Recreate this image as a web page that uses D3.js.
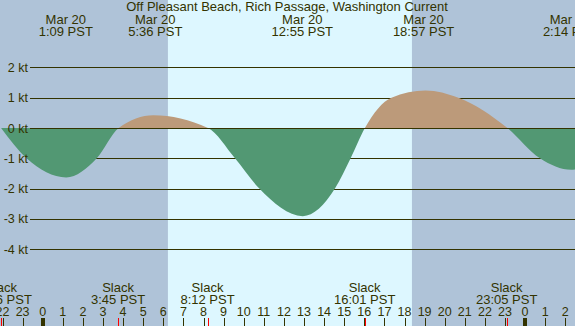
<!DOCTYPE html>
<html><head><meta charset="utf-8">
<script src="https://cdn.jsdelivr.net/npm/d3@7"></script>
<style>html,body{margin:0;padding:0;background:#afc3d8;}svg{display:block;}</style>
</head><body>
<script>
// Hours relative to Mar 20 00:00 PST; current speed in knots
const curveHours  = [-2.07, -0.8, 1.17, 2.69, 3.78, 5.5, 8.22, 9.567, 10.776, 12.94, 14.54, 15.32, 16.03, 17.35, 19.05, 20.68, 23.12, 24.74, 26.3, 26.5];
const curveSpeeds = [0,     -1.0, -1.63, -1.0, 0,   0.42, 0,   -1.0,   -2.0,  -2.91, -2.0, -1.0,  0,     1.0,   1.24,  1.0,   0,     -1.0,  -1.38, -1.37];
const maxLabels = [
  {h: 1.15, date: "Mar 20", time: "1:09 PST"},
  {h: 5.6, date: "Mar 20", time: "5:36 PST"},
  {h: 12.917, date: "Mar 20", time: "12:55 PST"},
  {h: 18.95, date: "Mar 20", time: "18:57 PST"},
  {h: 26.233, date: "Mar 21", time: "2:14 PST"}
];
const slackHours = [-2.067, 3.75, 8.2, 16.017, 23.083];
const slackTimes = ["21:56 PST", "3:45 PST", "8:12 PST", "16:01 PST", "23:05 PST"];
const yTicks = [2, 1, 0, -1, -2, -3, -4];
const hourTicks = d3.range(-2, 27);
const sunrise = 6.23, sunset = 18.37;
const title = "Off Pleasant Beach, Rich Passage, Washington Current";

const W = 575, H = 326;
const x = d3.scaleLinear().domain([0, 24]).range([42.7, 525.1]);
const y = d3.scaleLinear().domain([0, 2]).range([128, 67.4]);
const ink = "#333300";
const font = "Liberation Sans, Arial, sans-serif";
const fs = 13;

const svg = d3.select("body").append("svg").attr("width", W).attr("height", H)
  .style("font-family", font);

svg.append("rect").attr("width", W).attr("height", H).attr("fill", "#afc3d8");
svg.append("rect").attr("x", x(sunrise)).attr("y", 0)
  .attr("width", x(sunset) - x(sunrise)).attr("height", H).attr("fill", "#ddf7ff");

// grid lines
svg.selectAll("line.grid").data(yTicks).join("line").attr("class", "grid")
  .attr("x1", 30).attr("x2", W).attr("y1", d => Math.round(y(d)) + 0.5).attr("y2", d => Math.round(y(d)) + 0.5)
  .attr("stroke", ink).attr("stroke-width", 1);

const pts = curveHours.map((h, i) => [h, curveSpeeds[i]]);
const area = d3.area().x(d => x(d[0])).y0(y(0)).y1(d => y(d[1])).curve(d3.curveMonotoneX);
const defs = svg.append("defs");
defs.append("clipPath").attr("id", "above").append("rect")
  .attr("x", 0).attr("y", 0).attr("width", W).attr("height", y(0));
defs.append("clipPath").attr("id", "below").append("rect")
  .attr("x", 0).attr("y", y(0)).attr("width", W).attr("height", H - y(0));
svg.append("path").datum(pts).attr("d", area).attr("fill", "#bc9a7a").attr("clip-path", "url(#above)");
svg.append("path").datum(pts).attr("d", area).attr("fill", "#529873").attr("clip-path", "url(#below)");

// zero line on top
svg.append("line").attr("x1", 30).attr("x2", W).attr("y1", Math.round(y(0)) + 0.5).attr("y2", Math.round(y(0)) + 0.5)
  .attr("stroke", ink);

// y labels
svg.selectAll("text.yl").data(yTicks).join("text").attr("class", "yl")
  .attr("x", 28).attr("y", d => y(d) + 4.5).attr("text-anchor", "end")
  .attr("font-size", 12.5).attr("fill", ink).text(d => d + " kt");

// title
svg.append("text").attr("x", 287).attr("y", 11).attr("text-anchor", "middle")
  .attr("font-size", fs).attr("fill", ink).text(title);

// top labels
const tl = svg.selectAll("g.top").data(maxLabels).join("g").attr("class", "top");
tl.append("text").attr("x", d => x(d.h)).attr("y", 24).attr("text-anchor", "middle")
  .attr("font-size", fs).attr("fill", ink).text(d => d.date);
tl.append("text").attr("x", d => x(d.h)).attr("y", 36).attr("text-anchor", "middle")
  .attr("font-size", fs).attr("fill", ink).text(d => d.time);

// slack labels
const sl = svg.selectAll("g.slack").data(slackHours).join("g").attr("class", "slack");
sl.append("text").attr("x", d => x(d)).attr("y", 292).attr("text-anchor", "middle")
  .attr("font-size", fs).attr("fill", ink).text("Slack");
sl.append("text").attr("x", d => x(d)).attr("y", 304).attr("text-anchor", "middle")
  .attr("font-size", fs).attr("fill", ink).text((d, i) => slackTimes[i]);

// hour axis
svg.selectAll("text.hr").data(hourTicks).join("text").attr("class", "hr")
  .attr("x", d => x(d)).attr("y", 316).attr("text-anchor", "middle")
  .attr("font-size", 12.5).attr("fill", ink).text(d => ((d % 24) + 24) % 24);
svg.selectAll("rect.tk").data(hourTicks).join("rect").attr("class", "tk")
  .attr("x", d => (((d % 24) + 24) % 24 === 0) ? Math.round(x(d)) - 2 : Math.round(x(d)))
  .attr("width", d => (((d % 24) + 24) % 24 === 0) ? 4 : 1)
  .attr("y", 318).attr("height", 8).attr("fill", ink);
svg.selectAll("rect.sk").data(slackHours).join("rect").attr("class", "sk")
  .attr("x", d => Math.round(x(d))).attr("width", 1)
  .attr("y", 318).attr("height", 8).attr("fill", "#ff0000");
</script>
</body></html>
